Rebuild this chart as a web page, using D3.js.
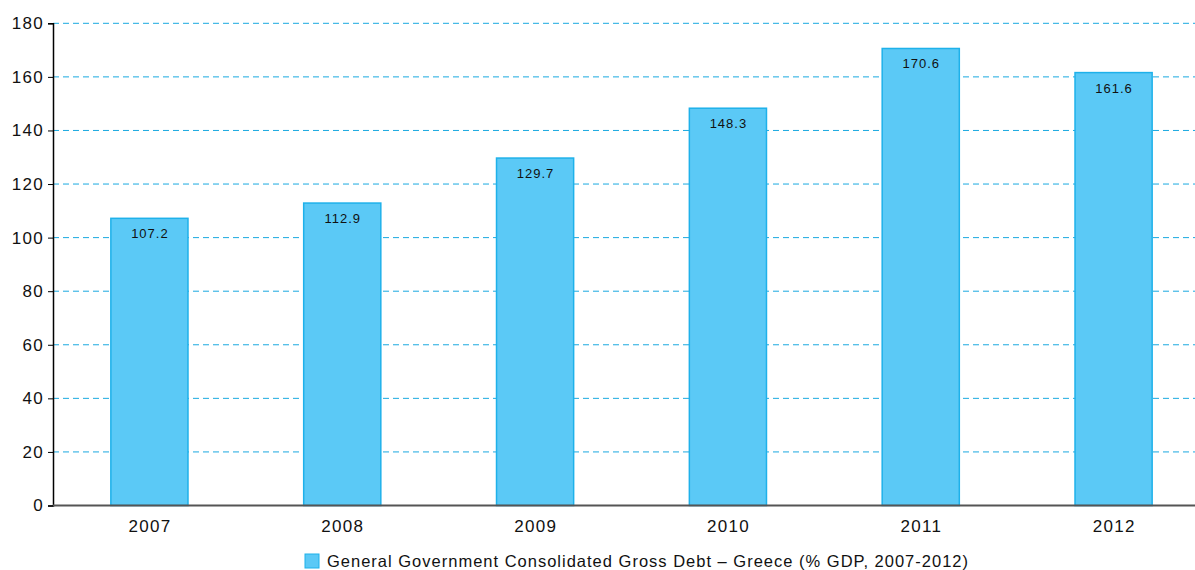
<!DOCTYPE html>
<html lang="en">
<head>
<meta charset="UTF-8">
<title>General Government Consolidated Gross Debt - Greece</title>
<script src="https://d3js.org/d3.v7.min.js"></script>
<style>
    body { margin: 0; background: #fff; }
    svg { display: block; font-family: "Liberation Sans", Arial, sans-serif; }
    .grid line { stroke: #1aa9e0; stroke-dasharray: 6,4; }
    .tick text { fill: #111; }
</style>
</head>
<body>
<svg width="1195" height="570"></svg>
<script>
    const years = ["2007", "2008", "2009", "2010", "2011", "2012"];
    const debt = [107.2, 112.9, 129.7, 148.3, 170.6, 161.6];
    const yTicks = [0, 20, 40, 60, 80, 100, 120, 140, 160, 180];
    const legendLabel = "General Government Consolidated Gross Debt \u2013 Greece (% GDP, 2007-2012)";

    const data = years.map((y, i) => ({year: y, value: debt[i]}));

    const svg = d3.select("svg");
    const plotLeft = 53, plotRight = 1210, plotTop = 23.3, plotBottom = 505.5;
    const font = "Liberation Sans, Arial, sans-serif";

    const x = d3.scaleBand()
        .domain(years)
        .range([plotLeft, plotRight])
        .paddingInner(0.6)
        .paddingOuter(0.3);

    const y = d3.scaleLinear()
        .domain([0, 180])
        .range([plotBottom, plotTop]);

    // dashed grid
    svg.append("g")
        .attr("class", "grid")
        .selectAll("line")
        .data(yTicks.filter(d => d > 0))
        .enter().append("line")
        .attr("x1", plotLeft)
        .attr("x2", 1195)
        .attr("y1", d => y(d))
        .attr("y2", d => y(d));

    // bars
    svg.selectAll(".bar")
        .data(data)
        .enter().append("rect")
        .attr("class", "bar")
        .attr("x", d => x(d.year))
        .attr("y", d => y(d.value))
        .attr("width", x.bandwidth())
        .attr("height", d => plotBottom - y(d.value))
        .attr("fill", "#5bc9f6")
        .attr("stroke", "#1eb1ea")
        .attr("stroke-width", 1.5);

    svg.selectAll(".label")
        .data(data)
        .enter().append("text")
        .attr("x", d => x(d.year) + x.bandwidth() / 2 + 0.5)
        .attr("y", d => y(d.value) + 20)
        .attr("text-anchor", "middle")
        .attr("font-size", 13)
        .attr("letter-spacing", 1)
        .attr("fill", "#111")
        .text(d => d.value.toFixed(1));

    // y axis
    const yAxis = svg.append("g")
        .attr("transform", `translate(${plotLeft},0)`)
        .call(d3.axisLeft(y).tickValues(yTicks).tickSize(5).tickPadding(4));
    yAxis.select(".domain").attr("stroke", "#000").attr("stroke-width", 1.5);
    yAxis.selectAll(".tick line").attr("stroke", "#000");
    yAxis.selectAll(".tick text").attr("font-size", 17).attr("letter-spacing", 1.3).attr("font-family", font);

    // x axis
    const xAxis = svg.append("g")
        .attr("transform", `translate(0,${plotBottom})`)
        .call(d3.axisBottom(x).tickSize(0).tickPadding(14));
    xAxis.select(".domain").remove();
    xAxis.selectAll(".tick text").attr("font-size", 17).attr("letter-spacing", 1.3)
        .attr("dx", 0.6).attr("font-family", font);
    svg.append("line")
        .attr("x1", plotLeft).attr("x2", 1195)
        .attr("y1", plotBottom).attr("y2", plotBottom)
        .attr("stroke", "#555")
        .attr("stroke-width", 2);

    // legend
    const legend = svg.append("g").attr("transform", "translate(305,554)");
    legend.append("rect")
        .attr("width", 14).attr("height", 14)
        .attr("fill", "#5bc9f6")
        .attr("stroke", "#1eb1ea");
    legend.append("text")
        .attr("x", 22).attr("y", 12.5)
        .attr("font-size", 16.5)
        .attr("letter-spacing", 1)
        .attr("fill", "#111")
        .text(legendLabel);
</script>
</body>
</html>
